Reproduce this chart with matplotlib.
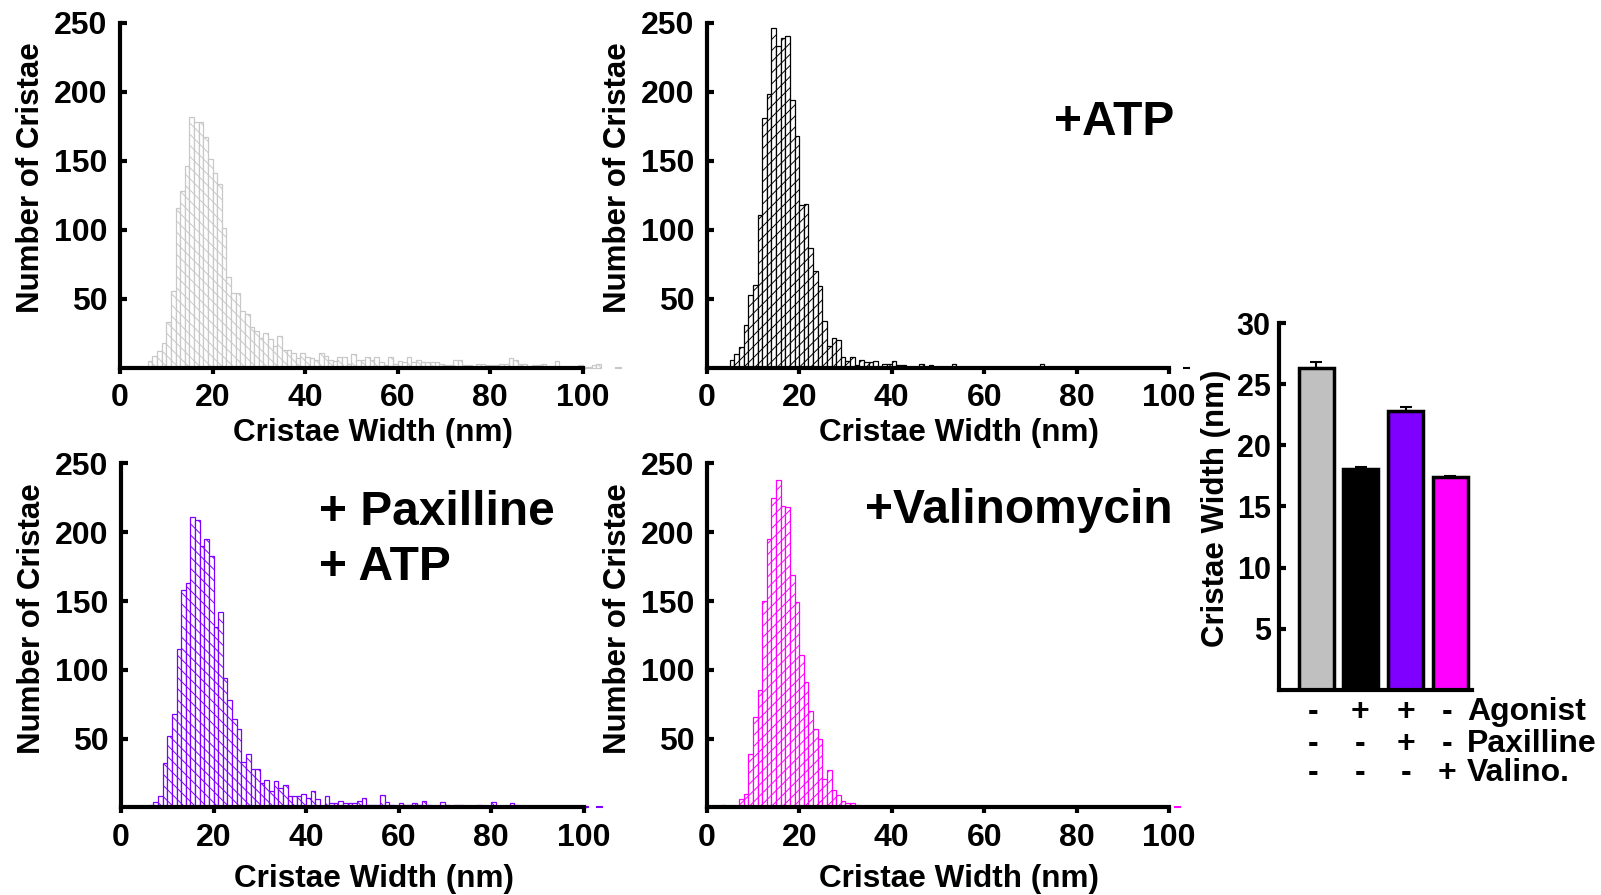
import matplotlib.pyplot as plt
import numpy as np

plt.rcParams['font.family'] = ['Liberation Sans', 'DejaVu Sans']
plt.rcParams['font.weight'] = 'bold'
plt.rcParams['hatch.linewidth'] = 0.7

# histogram counts, 1 nm bins, first bin starts at *_start
ctrl_start = 6
ctrl_counts = [5, 9, 12, 18, 33, 56, 116, 128, 146, 182, 178, 178, 167, 151, 141, 133, 101, 66,
               54, 54, 41, 39, 30, 27, 22, 25, 21, 16, 23, 13, 13, 11, 7, 11, 8, 7, 6, 11, 9, 6,
               5, 8, 8, 3, 10, 6, 6, 8, 6, 8, 4, 2, 8, 3, 5, 4, 8,
               4, 6, 4, 4, 4, 4, 3, 2, 2, 6, 6, 2, 2, 0, 3, 3, 2, 2, 2, 3, 3, 7, 6, 3, 3, 0,
               2, 2, 3, 0, 0, 5, 0, 0, 0, 0, 2, 1, 1, 2, 3]
ctrl_end = 107

atp_start = 5
atp_counts = [6, 10, 15, 31, 53, 60, 111, 181, 198, 246, 233, 239, 240, 194, 168, 118, 119, 87,
              70, 59, 34, 16, 22, 20, 8, 5, 8, 2, 6, 4, 4, 5, 1, 3, 3, 5, 2, 2, 0, 0, 0, 3, 0, 2,
              0, 0, 0, 0, 3, 0, 0, 1, 0, 0, 0, 0, 0, 0, 0, 0, 1, 0, 0, 0, 0, 0, 0, 3, 0, 0, 1,
              0, 0, 0, 0, 0, 0, 0, 0, 1]
atp_end = 103

pax_start = 6
pax_counts = [2, 4, 8, 32, 52, 68, 115, 158, 163, 211, 209, 190, 195, 183, 131, 142, 94, 78,
              64, 57, 33, 39, 28, 28, 18, 20, 12, 19, 14, 16, 8, 8, 8, 10, 7, 12, 6, 1, 8, 3,
              3, 5, 3, 3, 3, 5, 7, 2, 2, 2, 9, 4, 2, 1, 3, 2,
              2, 3, 2, 5, 2, 0, 0, 4, 2, 0, 2, 2, 0, 0, 0, 2, 0, 0, 4, 0, 0, 0, 3, 2, 0, 0,
              1, 1, 0, 0, 0, 0, 0, 1, 1, 0, 0, 0, 1]
pax_end = 102.7

val_start = 3
val_counts = [2, 0, 0, 1, 6, 10, 39, 66, 85, 150, 195, 225, 238, 219, 218, 169, 149, 111, 91,
              70, 57, 50, 21, 27, 13, 9, 5, 3, 3, 2, 1, 0, 0, 1, 0, 0, 1, 0, 0, 1, 1]
val_end = 101

# bar chart
bar_means = [26.3, 18.1, 22.8, 17.4]
bar_errs = [0.5, 0.15, 0.3, 0.1]
bar_colors = ['#c0c0c0', 'black', '#8000ff', '#ff00ff']
agonist = ['-', '+', '+', '-']
paxilline = ['-', '-', '+', '-']
valino = ['-', '-', '-', '+']

W, H = 1601, 895
fig = plt.figure(figsize=(W / 100 + 0.001, H / 100 + 0.001), dpi=100)


def px_axes(left, top, right, bottom):
    return fig.add_axes([left / W, 1 - bottom / H, (right - left) / W, (bottom - top) / H])


def draw_hist(ax, start, counts, end, color, hatch, xlab_y):
    lefts = np.arange(start, start + len(counts))
    counts = np.array(counts)
    keep = counts > 0
    ax.bar(lefts[keep], counts[keep], width=1, align='edge', facecolor='white',
           edgecolor=color, hatch=hatch, linewidth=0.9, clip_on=False, zorder=1)
    ax.bar([end], [0], width=1.5, align='edge', facecolor='none', edgecolor=color,
           linewidth=1.5, clip_on=False, zorder=1)
    ax.set_xlim(0, 105)
    ax.set_ylim(0, 250)
    for s in ['top', 'right']:
        ax.spines[s].set_visible(False)
    ax.spines['left'].set_linewidth(3)
    ax.spines['left'].set_bounds(0, 250)
    ax.spines['bottom'].set_linewidth(3)
    ax.spines['bottom'].set_bounds(0, 100)
    ax.set_xticks(range(0, 101, 20))
    ax.set_yticks(range(50, 251, 50))
    ax.tick_params(axis='x', direction='out', length=4, width=3, labelsize=23, pad=7)
    ax.tick_params(axis='y', direction='in', length=5, width=3, labelsize=23, pad=9)
    ax.text(-0.183, 0.55, 'Number of Cristae', transform=ax.transAxes, rotation=90,
            ha='center', va='center', fontsize=22.5)
    ax.text(0.52, xlab_y, 'Cristae Width (nm)', transform=ax.transAxes,
            ha='center', va='center', fontsize=22.7)


ax1 = px_axes(120, 22.7, 605.6, 368)
draw_hist(ax1, ctrl_start, ctrl_counts, ctrl_end, '#c8c8c8', '\\\\\\', -0.189)
ax2 = px_axes(706.7, 22.7, 1192.3, 368)
draw_hist(ax2, atp_start, atp_counts, atp_end, 'black', '///', -0.189)
ax3 = px_axes(121, 463.3, 606.6, 807.5)
draw_hist(ax3, pax_start, pax_counts, pax_end, '#8000ff', '\\\\\\', -0.207)
ax4 = px_axes(706.7, 463.3, 1192.3, 807.5)
draw_hist(ax4, val_start, val_counts, val_end, '#ff00ff', '///', -0.207)

fig.text(1054 / W, 1 - 135 / H, '+ATP', fontsize=34.5, ha='left', va='baseline')
fig.text(319 / W, 1 - 525 / H, '+ Paxilline', fontsize=34.5, ha='left', va='baseline')
fig.text(319 / W, 1 - 580 / H, '+ ATP', fontsize=34.5, ha='left', va='baseline')
fig.text(865 / W, 1 - 523 / H, '+Valinomycin', fontsize=34.5, ha='left', va='baseline')

# mean cristae width bar chart
ax5 = px_axes(1279, 323, 1472, 690)
x = np.arange(len(bar_means))
ax5.bar(x, bar_means, width=0.78, color=bar_colors, edgecolor='black', linewidth=2.5,
        yerr=[np.zeros(len(bar_errs)), bar_errs], capsize=4,
        error_kw=dict(elinewidth=1.5, capthick=1.5, ecolor='black'))
ax5.set_xlim(-0.83, 3.49)
ax5.set_ylim(0, 30)
for s in ['top', 'right']:
    ax5.spines[s].set_visible(False)
ax5.spines['left'].set_linewidth(3)
ax5.spines['bottom'].set_linewidth(3)
ax5.set_xticks([])
ax5.set_yticks(range(5, 31, 5))
ax5.tick_params(axis='y', direction='in', length=5, width=3, labelsize=22, pad=6)
ax5.text(-0.326, 0.496, 'Cristae Width (nm)', transform=ax5.transAxes, rotation=90,
         ha='center', va='center', fontsize=22.5)

sign_x = [1313, 1360, 1406, 1447]
rows = [(agonist, 'Agonist', 720), (paxilline, 'Paxilline', 752), (valino, 'Valino.', 781)]
for signs, name, yb in rows:
    for sx, sg in zip(sign_x, signs):
        fig.text(sx / W, 1 - yb / H, sg, fontsize=23, ha='center', va='baseline')
    fig.text(1467 / W, 1 - yb / H, name, fontsize=23, ha='left', va='baseline')

fig.savefig('out.png', dpi=100)
